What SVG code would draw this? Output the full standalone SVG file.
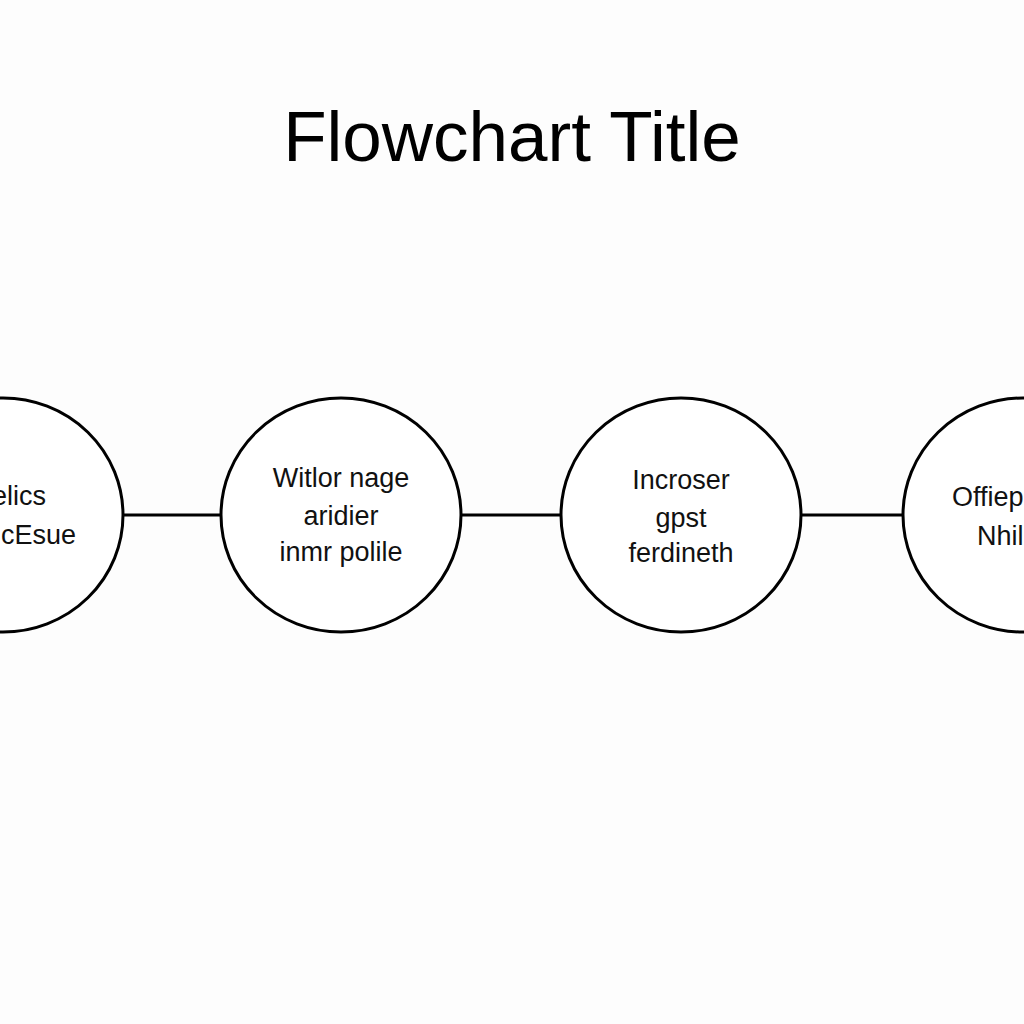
<svg xmlns="http://www.w3.org/2000/svg" width="1024" height="1024" viewBox="0 0 1024 1024">
<style>
.node{fill:#fff;stroke:#000;stroke-width:3}
.lbl{font-family:"Liberation Sans",Arial,sans-serif;font-size:27px;fill:#111}
.edge{stroke:#000;stroke-width:3;fill:none}
.title{font-family:"Liberation Sans",Arial,sans-serif;font-size:71px;fill:#000}
</style>
<rect width="1024" height="1024" fill="#fdfdfd"/>
<text class="title" x="512" y="161" text-anchor="middle">Flowchart Title</text>
<g id="connectors">
<line class="edge" x1="123" y1="515" x2="221" y2="515"/>
<line class="edge" x1="461" y1="515" x2="561" y2="515"/>
<line class="edge" x1="802" y1="515" x2="903" y2="515"/>
</g>
<g id="node1">
<ellipse class="node" cx="3" cy="515" rx="120" ry="117"/>
<text class="lbl" x="46" y="505" text-anchor="end">elics</text>
<text class="lbl" x="76" y="544" text-anchor="end">cEsue</text>
</g>
<g id="node2">
<ellipse class="node" cx="341" cy="515" rx="120" ry="117"/>
<text class="lbl" x="341" y="487" text-anchor="middle">Witlor nage</text>
<text class="lbl" x="341" y="525" text-anchor="middle">aridier</text>
<text class="lbl" x="341" y="561" text-anchor="middle">inmr polile</text>
</g>
<g id="node3">
<ellipse class="node" cx="681" cy="515" rx="120" ry="117"/>
<text class="lbl" x="681" y="489" text-anchor="middle">Incroser</text>
<text class="lbl" x="681" y="527" text-anchor="middle">gpst</text>
<text class="lbl" x="681" y="562" text-anchor="middle">ferdineth</text>
</g>
<g id="node4">
<ellipse class="node" cx="1023" cy="515" rx="120" ry="117"/>
<text class="lbl" x="952" y="506">Offiep</text>
<text class="lbl" x="977" y="545">Nhil</text>
</g>
</svg>
